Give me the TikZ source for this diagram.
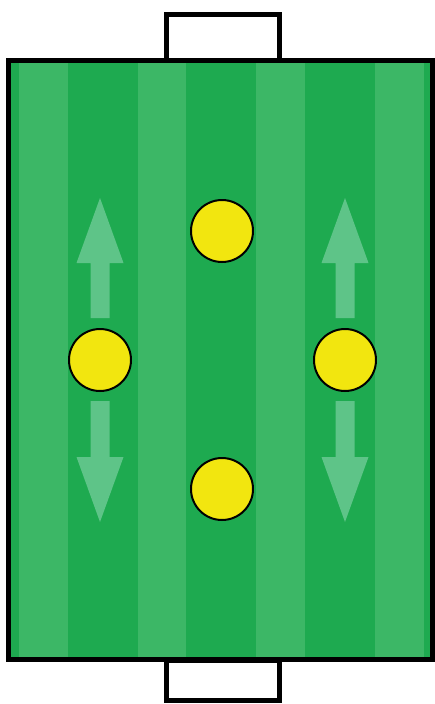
\documentclass[tikz,border=0pt]{standalone}
\usepackage{tikz}
\usetikzlibrary{positioning}
\definecolor{pitchdark}{RGB}{30,170,80}
\definecolor{pitchlight}{RGB}{60,183,102}
\definecolor{arrowcol}{RGB}{94,196,136}
\definecolor{playercol}{RGB}{242,230,15}

\begin{document}
\begin{tikzpicture}[
    x=0.02cm, y=-0.02cm,
    line/.style={draw=black, line width=0.1cm},
    stripe/.style={fill=pitchlight},
    player/.style={circle, fill=playercol, draw=black, line width=0.04cm, minimum size=1.24cm, inner sep=0pt},
    move/.style={fill=arrowcol},
]
\useasboundingbox (0,0) rectangle (435,704);

% goals
\draw[line, fill=white] (166.5,60) rectangle (279.5,14.5);
\draw[line, fill=white] (166.5,660) rectangle (279.5,700.5);

% pitch with stripes
\fill[pitchdark] (8.5,60.5) rectangle (432.5,659.5);
\foreach \a/\b in {19/68, 138/186, 256/305, 375/424}
    \fill[stripe] (\a,60.5) rectangle (\b,659.5);
\draw[line] (8.5,60.5) rectangle (432.5,659.5);

% direction of movement
\foreach \c in {100, 345} {
    \fill[move] (\c-9.5,318) -- (\c-9.5,263) -- (\c-23.5,263) -- (\c,198) -- (\c+23.5,263) -- (\c+9.5,263) -- (\c+9.5,318) -- cycle;
    \fill[move] (\c-9.5,401) -- (\c-9.5,457) -- (\c-23.5,457) -- (\c,522) -- (\c+23.5,457) -- (\c+9.5,457) -- (\c+9.5,401) -- cycle;
}

% players
\node[player] (top) at (222,231) {};
\node[player] (bottom) at (222,489) {};
\node[player] (left) at (100,360) {};
\node[player] (right) at (345,360) {};
\end{tikzpicture}
\end{document}
